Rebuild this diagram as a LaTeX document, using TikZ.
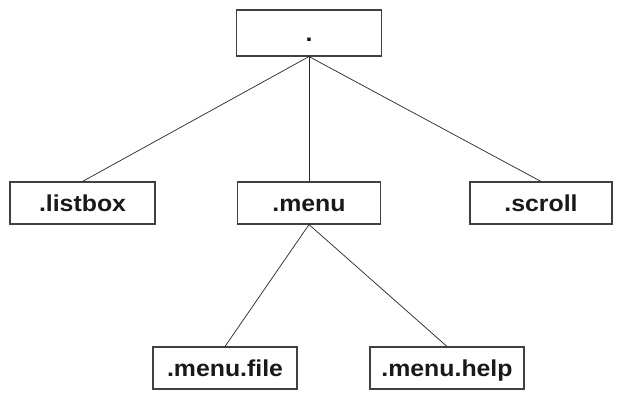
\documentclass[tikz,border=0pt]{standalone}
\usepackage{fontspec}
\usepackage{graphicx}
\setmainfont{Liberation Sans}
\tikzset{
  widget/.style={draw=black!75, line width=1.1pt, rectangle, minimum height=42pt,
    inner sep=0pt, text height=16pt, text depth=0pt, text=black!90,
    font=\fontsize{23}{27}\selectfont\bfseries},
  link/.style={draw=black!85, line width=0.7pt}
}
\newcommand\wname[1]{\scalebox{1.08}[1]{#1}}
\begin{document}
\begin{tikzpicture}[x=1pt,y=-1pt]
  \useasboundingbox (0,0) rectangle (629,392);
  \fill[white] (0,0) rectangle (629,392);
  % widget hierarchy
  \node[widget, minimum width=145pt, minimum height=46pt] (root) at (309,33) {\wname{.}};
  \node[widget, minimum width=145pt] (listbox) at (82.5,203)  {\wname{.listbox}};
  \node[widget, minimum width=143pt] (menu)    at (309,203)   {\wname{.menu}};
  \node[widget, minimum width=142pt] (scroll)  at (541,203)   {\wname{.scroll}};
  \node[widget, minimum width=144pt] (mfile)   at (225,368)   {\wname{.menu.file}};
  \node[widget, minimum width=154pt] (mhelp)   at (447,368)   {\wname{.menu.help}};
  % parent-child links
  \draw[link] (root.south) -- (listbox.north);
  \draw[link] (root.south) -- (menu.north);
  \draw[link] (root.south) -- (scroll.north);
  \draw[link] (menu.south) -- (mfile.north);
  \draw[link] (menu.south) -- (mhelp.north);
\end{tikzpicture}
\end{document}
